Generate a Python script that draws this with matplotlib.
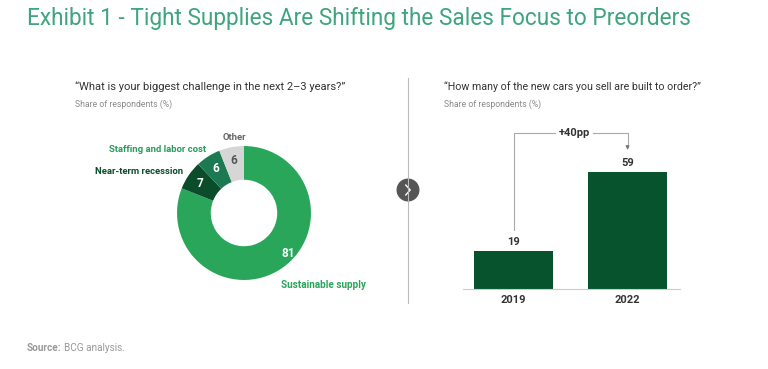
import matplotlib.pyplot as plt
import numpy as np

plt.rcParams['font.family'] = ['Roboto', 'DejaVu Sans']

# donut data
challenges = ["Sustainable supply", "Near-term recession", "Staffing and labor cost", "Other"]
shares = [81, 7, 6, 6]
donut_colors = ["#2aa65b", "#0b4d2b", "#1c7a52", "#d6d6d6"]

# bar data
years = ["2019", "2022"]
built_to_order = [19, 59]

W, H = 768, 369
fig = plt.figure(figsize=(W / 100, H / 100), dpi=100)

def fx(px):
    return px / W

def fy(py):
    return 1 - py / H

green = "#3fa57f"
dark = "#333333"
grey = "#8a8a8a"

fig.text(fx(27), fy(19), "Exhibit 1 - Tight Supplies Are Shifting the Sales Focus to Preorders",
         fontsize=16.3, color=green, va="center", ha="left")

# panel headings
fig.text(fx(75), fy(87), "\u201cWhat is your biggest challenge in the next 2\u20133 years?\u201d",
         fontsize=8, color=dark, va="center")
fig.text(fx(75), fy(104), "Share of respondents (%)", fontsize=6.2, color=grey, va="center")
fig.text(fx(444), fy(87), "\u201cHow many of the new cars you sell are built to order?\u201d",
         fontsize=7.7, color=dark, va="center")
fig.text(fx(444), fy(104), "Share of respondents (%)", fontsize=6.2, color=grey, va="center")

# divider with button
fig.add_artist(plt.Line2D([fx(408), fx(408)], [fy(78), fy(303)], color="#bbbbbb", lw=0.8))
bax = fig.add_axes([fx(397), fy(201), 22 / W, 22 / H])
bax.set_xlim(-1, 1)
bax.set_ylim(-1, 1)
bax.set_aspect("equal")
bax.axis("off")
bax.add_patch(plt.Circle((0, 0), 0.98, color="#555555", clip_on=False))
bax.plot([-0.2, 0.2, -0.2], [0.45, 0, -0.45], color="white", lw=1.0)

# donut
dax = fig.add_axes([fx(169), fy(288), 150 / W, 150 / H])
wedges, _ = dax.pie(shares, colors=donut_colors, startangle=90, counterclock=False,
                    radius=0.893, wedgeprops=dict(width=0.45, edgecolor="none"))
dax.set_xlim(-1, 1)
dax.set_ylim(-1, 1)
dax.set_aspect("equal")

val_colors = ["white", "white", "white", "#555555"]
for i, w in enumerate(wedges):
    ang = np.deg2rad((w.theta1 + w.theta2) / 2)
    r = 0.71
    if i == 0:
        ang = np.deg2rad(-42)
        r = 0.8
    dax.text(r * np.cos(ang), r * np.sin(ang), str(shares[i]), ha="center", va="center",
             fontsize=8.5, fontweight="bold", color=val_colors[i])

fig.text(fx(234), fy(137), challenges[3], fontsize=6.8, fontweight="bold", color="#666666",
         ha="center", va="center")
fig.text(fx(206), fy(150), challenges[2], fontsize=6.8, fontweight="bold", color="#2a9a5e",
         ha="right", va="center")
fig.text(fx(183), fy(172), challenges[1], fontsize=6.8, fontweight="bold", color="#0b4d2b",
         ha="right", va="center")
fig.text(fx(281), fy(285), challenges[0], fontsize=7.2, fontweight="bold", color="#2aa65b",
         ha="left", va="center")

# bars
bx = fig.add_axes([fx(463), fy(289), 217 / W, 158 / H])
x = np.arange(len(years))
bx.bar(x, built_to_order, width=0.69, color="#06532e")
bx.set_xlim(-0.443, 1.46)
bx.set_ylim(0, 80)
for s in ["top", "right", "left"]:
    bx.spines[s].set_visible(False)
bx.spines["bottom"].set_color("#cccccc")
bx.spines["bottom"].set_linewidth(0.8)
bx.set_yticks([])
bx.set_xticks(x)
bx.set_xticklabels(years, fontsize=8, fontweight="bold", color=dark)
bx.tick_params(axis="x", length=0, pad=4)
for xi, v in zip(x, built_to_order):
    bx.text(xi, v + 5, str(v), ha="center", va="center", fontsize=8, fontweight="bold",
            color=dark)

# +40pp bracket
top = 78.8
lc = "#aaaaaa"
bx.plot([0, 0, 0.36], [built_to_order[0] + 11, top, top], color=lc, lw=0.8, clip_on=False)
bx.plot([0.7, 1, 1], [top, top, built_to_order[1] + 13], color=lc, lw=0.8, clip_on=False)
bx.annotate("", xy=(1, built_to_order[1] + 11.5), xytext=(1, built_to_order[1] + 14),
            arrowprops=dict(arrowstyle="-|>", color="#777777", lw=0.8, mutation_scale=5),
            annotation_clip=False)
bx.text(0.53, top, "+%dpp" % (built_to_order[1] - built_to_order[0]), ha="center", va="center",
        fontsize=8, fontweight="bold", color=dark)

fig.text(fx(27), fy(348), "Source:", fontsize=7.2, fontweight="bold", color="#999999", va="center")
fig.text(fx(64), fy(348), "BCG analysis.", fontsize=7.2, color="#999999", va="center")

fig.savefig("out.png", dpi=100, facecolor="white")
